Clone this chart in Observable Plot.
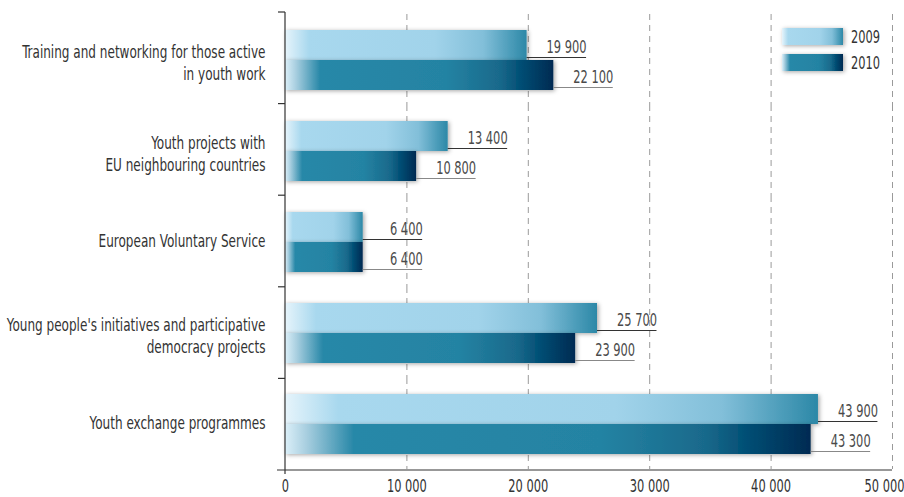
<!DOCTYPE html>
<html><head><meta charset="utf-8">
<script src="https://cdn.jsdelivr.net/npm/d3@7"></script>
<script src="https://cdn.jsdelivr.net/npm/@observablehq/plot@0.6"></script>
<style>
html,body{margin:0;padding:0;background:#fff;}
#chart{width:904px;height:497px;}
svg text{font-family:"DejaVu Sans Condensed","Liberation Sans Narrow","DejaVu Sans",sans-serif;font-stretch:condensed;}
</style></head><body><div id="chart"></div>
<script>
const categories = [
  "Training and networking for those active in youth work",
  "Youth projects with EU neighbouring countries",
  "European Voluntary Service",
  "Young people's initiatives and participative democracy projects",
  "Youth exchange programmes"
];
const categoryLabels = [
  "Training and networking for those active\nin youth work",
  "Youth projects with\nEU neighbouring countries",
  "European Voluntary Service",
  "Young people's initiatives and participative\ndemocracy projects",
  "Youth exchange programmes"
];
const years = ["2009", "2010"];
const values2009 = [19900, 13400, 6400, 25700, 43900];
const values2010 = [22100, 10800, 6400, 23900, 43300];
const xTicks = [0, 10000, 20000, 30000, 40000, 50000];
const gridTicks = [10000, 20000, 30000, 40000, 50000];

const rows = categories.flatMap((c, i) => [
  {category: c, year: "2009", value: values2009[i]},
  {category: c, year: "2010", value: values2010[i]}
]);
const fmt = v => d3.format(",")(v).replace(/,/g, " ");
const labelOffset = 4900;
const is09 = d => d.year === "2009";
const is10 = d => d.year === "2010";

const plot = Plot.plot({
  width: 904, height: 497,
  marginTop: 12, marginBottom: 27, marginLeft: 285, marginRight: 12,
  style: {fontSize: "16px", color: "#333", background: "white", overflow: "visible"},
  x: {domain: [0, 50000], ticks: xTicks, tickFormat: fmt, tickSize: 0, tickPadding: 10, label: null},
  y: {domain: years, axis: null, paddingInner: 0, paddingOuter: 0.47},
  fy: {domain: categories, padding: 0, label: null, tickSize: 0, tickPadding: 20,
       tickFormat: c => categoryLabels[categories.indexOf(c)]},
  facet: {data: rows, y: "category"},
  marks: [
    Plot.ruleX(gridTicks, {stroke: "#9a9a9a", strokeDasharray: "6,5", strokeWidth: 1}),
    Plot.barX(rows, {filter: is09, x: "value", y: "year", fill: "url(#grad2009)"}),
    Plot.barX(rows, {filter: is10, x: "value", y: "year", fill: "url(#grad2010)"}),
    Plot.ruleY(rows, {filter: is09, y: "year", x1: "value", x2: d => d.value + labelOffset, dy: 12, stroke: "#333", strokeWidth: 1.2}),
    Plot.ruleY(rows, {filter: is10, y: "year", x1: "value", x2: d => d.value + labelOffset, dy: 12, stroke: "#888", strokeWidth: 1.2}),
    Plot.text(rows, {x: d => d.value + labelOffset, y: "year", text: d => fmt(d.value), textAnchor: "end", dy: 2, fill: "#4a4a4a", fontSize: 16})
  ]
});
document.getElementById("chart").appendChild(plot);

const svg = d3.select(plot);
const defs = svg.insert("defs", ":first-child");
function grad(id, stops) {
  const g = defs.append("linearGradient").attr("id", id).attr("x1", 0).attr("x2", 1).attr("y1", 0).attr("y2", 0);
  stops.forEach(([o, c]) => g.append("stop").attr("offset", o).attr("stop-color", c));
}
grad("grad2009", [[0, "#e6f4fb"], [0.1, "#a8d8ee"], [0.62, "#a1d3ea"], [0.82, "#82bfd9"], [1, "#2c88a7"]]);
grad("grad2010", [[0, "#dbeff8"], [0.04, "#a9cfe0"], [0.13, "#2888a8"], [0.6, "#2483a3"], [0.8, "#19698b"], [0.88, "#014e74"], [1, "#012a52"]]);
const f = defs.append("filter").attr("id", "shadow").attr("x", "-20%").attr("y", "-40%").attr("width", "140%").attr("height", "180%");
f.append("feDropShadow").attr("dx", 1.5).attr("dy", 1).attr("stdDeviation", 2).attr("flood-color", "#000").attr("flood-opacity", 0.35);

svg.selectAll("g").filter(function() {
  const a = this.getAttribute("fill");
  return a && a.startsWith("url(#grad");
}).selectAll("rect").attr("filter", "url(#shadow)");

// axes frame
const xs = plot.scale("x"), fys = plot.scale("fy");
const x = d3.scaleLinear(xs.domain, xs.range);
const fy = d3.scaleBand(fys.domain, fys.range).paddingInner(fys.paddingInner || 0).paddingOuter(fys.paddingOuter || 0).align(fys.align ?? 0.5);
const frame = svg.append("g").attr("stroke", "#333").attr("stroke-width", 1.2).attr("fill", "none");
const x0 = x(0), yTop = fys.range[0], yBot = fys.range[1];
frame.append("line").attr("x1", x0).attr("x2", x0).attr("y1", yTop).attr("y2", yBot + 4);
categories.forEach(c => {
  frame.append("line").attr("x1", x0 - 7).attr("x2", x0).attr("y1", fy(c)).attr("y2", fy(c));
});
frame.append("line").attr("x1", x0 - 8).attr("x2", x(50000)).attr("y1", yBot).attr("y2", yBot);

// legend
const lg = svg.append("g");
[["2009", "grad2009", 28], ["2010", "grad2010", 54]].forEach(([t, g, yy]) => {
  lg.append("rect").attr("x", 782).attr("y", yy).attr("width", 61).attr("height", 17).attr("fill", `url(#${g})`).attr("filter", "url(#shadow)");
  lg.append("text").attr("x", 851).attr("y", yy + 8.5).attr("dy", "0.35em").attr("text-anchor", "start").attr("fill", "#333").text(t);
});

// condensed look: scale texts horizontally about their anchor
const allText = svg.selectAll("text");
const catSet = new Set(categoryLabels.map(s => s.replace("\n", "")));
allText.each(function() {
  if (catSet.has(this.textContent)) {
    this.setAttribute("font-size", 17);
    this.setAttribute("fill", "#333");
    d3.select(this).selectAll("tspan").each(function() {
      ["y", "dy"].forEach(a => {
        const v = this.getAttribute(a);
        if (v && v.endsWith("em")) this.setAttribute(a, (parseFloat(v) * 1.17 + 0.12).toFixed(3) + "em");
      });
    });
  } else {
    this.setAttribute("font-size", 17.5);
  }
});
function find(s) { return allText.filter(function() { return this.textContent === s; }).node(); }
function len(n) { return n ? n.getComputedTextLength() : 0; }
const sCat = 176 / (len(find("Youth exchange programmes")) || 176);
const sVal = 40 / (len(find("43 900")) || 40);
allText.each(function() {
  const txt = this.textContent;
  const s = catSet.has(txt) ? sCat : sVal;
  let extra = "";
  if (txt === fmt(50000)) extra = " translate(-8,0)";
  const t = this.getAttribute("transform");
  if (t) {
    this.setAttribute("transform", t + extra + ` scale(${s},1)`);
  } else {
    const xx = +this.getAttribute("x") || 0, yy = +this.getAttribute("y") || 0;
    this.setAttribute("x", 0); this.setAttribute("y", 0);
    this.setAttribute("transform", `translate(${xx},${yy})` + extra + ` scale(${s},1)`);
  }
});
</script></body></html>
